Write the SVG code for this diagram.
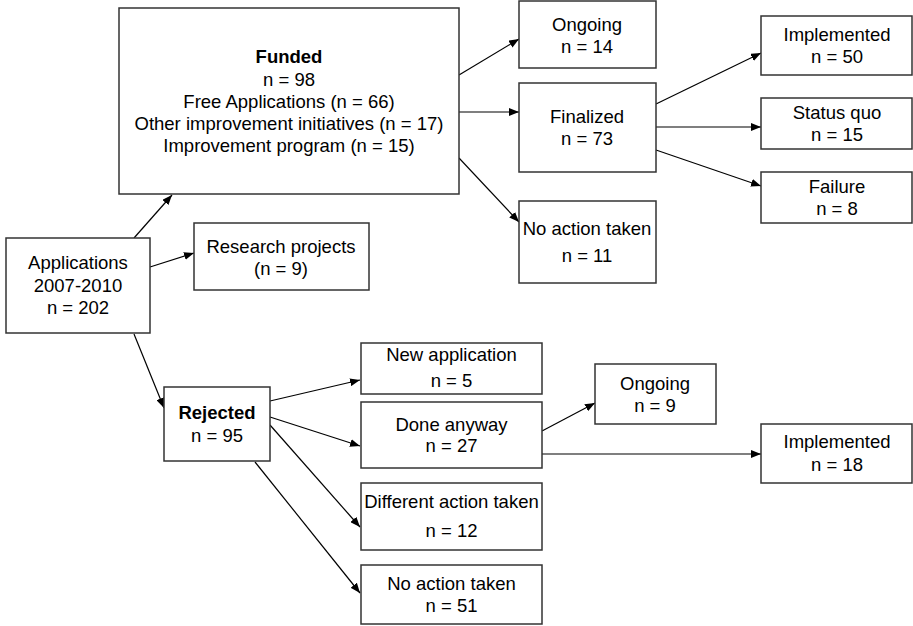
<svg xmlns="http://www.w3.org/2000/svg" width="913" height="626" viewBox="0 0 913 626">
<defs>
<marker id="ah" markerUnits="userSpaceOnUse" markerWidth="10" markerHeight="8" refX="10" refY="4" orient="auto"><path d="M0,0 L10,4 L0,8 Z" fill="#000"/></marker>
<style>
rect{fill:#fff;stroke:#333;stroke-width:1.5}
text{font-family:"Liberation Sans",Arial,sans-serif;font-size:18.5px;fill:#000;text-anchor:middle}
.b{font-weight:bold}
#connectors line{stroke:#000;stroke-width:1.2;marker-end:url(#ah)}
</style>
</defs>
<rect x="0" y="0" width="913" height="626" style="fill:#fff;stroke:none"/>
<g id="connectors">
<line x1="134" y1="238" x2="172" y2="195"/>
<line x1="150" y1="267" x2="194" y2="253"/>
<line x1="134" y1="334" x2="164" y2="408"/>
<line x1="459" y1="75" x2="519" y2="39"/>
<line x1="459" y1="112" x2="519" y2="112"/>
<line x1="459" y1="158" x2="519" y2="222"/>
<line x1="656" y1="104" x2="761" y2="53"/>
<line x1="656" y1="127" x2="761" y2="127"/>
<line x1="656" y1="150" x2="761" y2="186"/>
<line x1="270" y1="401" x2="360" y2="380"/>
<line x1="270" y1="417" x2="360" y2="446"/>
<line x1="270" y1="425" x2="360" y2="527"/>
<line x1="255" y1="462" x2="360" y2="593"/>
<line x1="542" y1="431" x2="595" y2="403"/>
<line x1="542" y1="454" x2="761" y2="454"/>
</g>
<g id="applications"><rect x="6" y="238" width="144" height="95"/><text x="78" y="269">Applications</text><text x="78" y="292">2007-2010</text><text x="78" y="314">n = 202</text></g>
<g id="funded"><rect x="119" y="8" width="340" height="186"/><text class="b" x="289" y="63">Funded</text><text x="289" y="86">n = 98</text><text x="289" y="108">Free Applications (n = 66)</text><text x="289" y="130">Other improvement initiatives (n = 17)</text><text x="289" y="152">Improvement program (n = 15)</text></g>
<g id="research"><rect x="194" y="223" width="175" height="67"/><text x="281" y="253">Research projects</text><text x="281" y="275">(n = 9)</text></g>
<g id="ongoing1"><rect x="519" y="1" width="137" height="67"/><text x="587" y="31">Ongoing</text><text x="587" y="53">n = 14</text></g>
<g id="finalized"><rect x="519" y="83" width="137" height="89"/><text x="587" y="123">Finalized</text><text x="587" y="145">n = 73</text></g>
<g id="noaction1"><rect x="519" y="201" width="137" height="82"/><text x="587" y="235">No action taken</text><text x="587" y="262">n = 11</text></g>
<g id="implemented1"><rect x="761" y="16" width="151" height="59"/><text x="837" y="41">Implemented</text><text x="837" y="63">n = 50</text></g>
<g id="statusquo"><rect x="761" y="98" width="151" height="51"/><text x="837" y="119">Status quo</text><text x="837" y="141">n = 15</text></g>
<g id="failure"><rect x="761" y="172" width="151" height="51"/><text x="837" y="193">Failure</text><text x="837" y="215">n = 8</text></g>
<g id="rejected"><rect x="164" y="387" width="106" height="74"/><text class="b" x="217" y="419">Rejected</text><text x="217" y="442">n = 95</text></g>
<g id="newapp"><rect x="361" y="343" width="181" height="51"/><text x="451.5" y="361">New application</text><text x="451.5" y="387">n = 5</text></g>
<g id="doneanyway"><rect x="361" y="402" width="181" height="66"/><text x="451.5" y="431">Done anyway</text><text x="451.5" y="452">n = 27</text></g>
<g id="different"><rect x="361" y="483" width="181" height="67"/><text x="451.5" y="508">Different action taken</text><text x="451.5" y="537">n = 12</text></g>
<g id="noaction2"><rect x="361" y="565" width="181" height="59"/><text x="451.5" y="590">No action taken</text><text x="451.5" y="612">n = 51</text></g>
<g id="ongoing2"><rect x="595" y="364" width="121" height="60"/><text x="655" y="390">Ongoing</text><text x="655" y="412">n = 9</text></g>
<g id="implemented2"><rect x="761" y="424" width="151" height="59"/><text x="837" y="448">Implemented</text><text x="837" y="471">n = 18</text></g>
</svg>
